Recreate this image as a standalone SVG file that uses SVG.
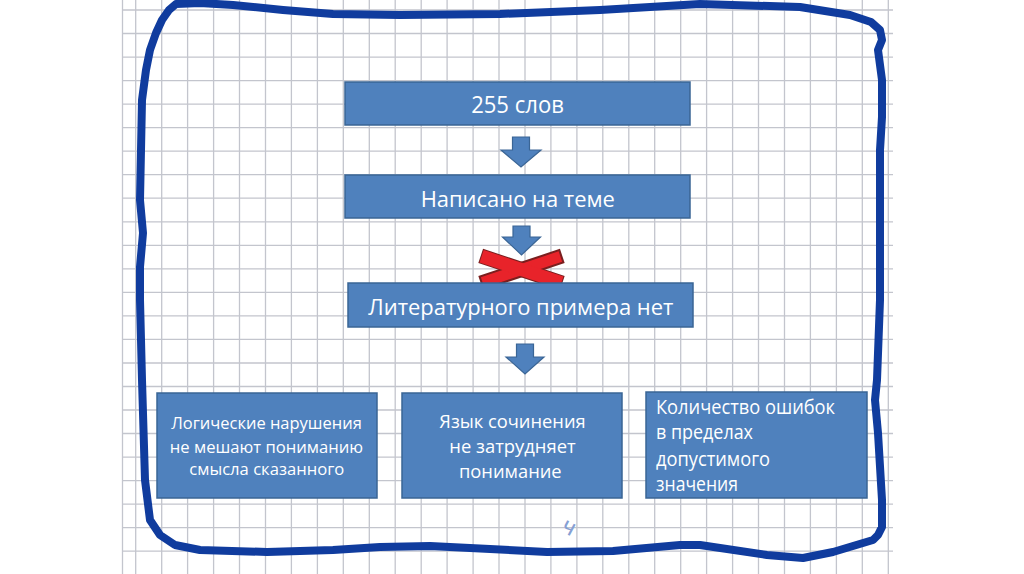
<svg xmlns="http://www.w3.org/2000/svg" width="1024" height="574" viewBox="0 0 1024 574">
<style>
.grid{stroke:#c3c5cd;stroke-width:1.3;fill:none}
.box{fill:#4f81bd;stroke:#3a6595;stroke-width:1.5}
.arrow{fill:#4f81bd;stroke:#3a6595;stroke-width:1.2;stroke-linejoin:miter}
.t{fill:#ffffff;font-family:"Open Sans","Noto Sans","DejaVu Sans",sans-serif}
.border{fill:none;stroke:#103c9e;stroke-width:8;stroke-linejoin:round;stroke-linecap:round}
</style>
<rect width="1024" height="574" fill="#ffffff"/>
<g id="grid">
<path class="grid" d="M122.5 0V574M135.7 0V574M161.7 0V574M187.6 0V574M213.6 0V574M239.5 0V574M265.5 0V574M291.4 0V574M317.4 0V574M343.3 0V574M369.3 0V574M395.2 0V574M421.2 0V574M447.1 0V574M473.1 0V574M499 0V574M525 0V574M550.9 0V574M576.9 0V574M602.8 0V574M628.8 0V574M654.7 0V574M680.7 0V574M706.6 0V574M732.6 0V574M758.5 0V574M784.5 0V574M810.4 0V574M836.4 0V574M862.3 0V574M888.3 0V574"/>
<path class="grid" d="M122 10H893M122 33.5H893M122 57.1H893M122 80.6H893M122 104.1H893M122 127.7H893M122 151.2H893M122 174.7H893M122 198.2H893M122 221.8H893M122 245.3H893M122 268.8H893M122 292.4H893M122 315.9H893M122 339.4H893M122 363H893M122 386.5H893M122 410H893M122 433.5H893M122 457.1H893M122 480.6H893M122 504.1H893M122 527.7H893M122 551.2H893"/>
</g>
<g id="frame">
<path class="border" d="M176 4L200 3L233 5L283 10L333 14L400 15L500 14L600 10L700 4L800 7L850 15L871 22L880 30L882 40L878 50L880 65L882 80L882 117L880 150L880 200L880 300L877 380L875 400L878 433L882 500L882 527L878 535L873 540L833 552L803 558L767 555L700 545L680 545L613 551L547 552L430 546L380 547L333 550L267 552L200 550L175 545L160 535L150 520L145 480L142 380L140 300L140 267L143 233L140 200L141 150L142 100L146 70L150 50L156 33L162 20L169 10Z"/>
</g>
<g id="connectors">
<path class="arrow" d="M512.5 137H529.5V150H541L521 167L501 150H512.5Z"/>
<path class="arrow" d="M513 226H530V237H540.5L521.5 255L502.5 237H513Z"/>
<path class="arrow" d="M516.5 344H533.5V357H544L525 374L506 357H516.5Z"/>
</g>
<g id="cross">
<rect x="-42" y="-6.5" width="84" height="13" transform="translate(521.5 269.5) rotate(18.4)" fill="#e8232a" stroke="#7a1f1f" stroke-width="2"/>
<rect x="-42" y="-6.5" width="84" height="13" transform="translate(521.5 269.5) rotate(-18.4)" fill="#e8232a" stroke="#7a1f1f" stroke-width="2"/>
<rect x="-42" y="-6.5" width="84" height="13" transform="translate(521.5 269.5) rotate(18.4)" fill="#e8232a"/>
</g>
<g id="node-words">
<rect class="box" x="345" y="82" width="345" height="43"/>
<text class="t" x="517.5" y="113.3" font-size="23" text-anchor="middle" textLength="92.7" lengthAdjust="spacingAndGlyphs">255 слов</text>
</g>
<g id="node-topic">
<rect class="box" x="345" y="175" width="345" height="43"/>
<text class="t" x="517.8" y="207.3" font-size="22" text-anchor="middle" textLength="194.3" lengthAdjust="spacingAndGlyphs">Написано на теме</text>
</g>
<g id="node-example">
<rect class="box" x="348" y="283" width="345" height="44"/>
<text class="t" x="520.8" y="315" font-size="22" text-anchor="middle" textLength="305" lengthAdjust="spacingAndGlyphs">Литературного примера нет</text>
</g>
<g id="node-logic">
<rect class="box" x="157" y="393" width="220" height="105"/>
<text class="t" x="266.5" y="428.7" font-size="16.5" text-anchor="middle" textLength="190.7" lengthAdjust="spacingAndGlyphs">Логические нарушения</text>
<text class="t" x="266.5" y="452.7" font-size="16.5" text-anchor="middle" textLength="193.3" lengthAdjust="spacingAndGlyphs">не мешают пониманию</text>
<text class="t" x="266.8" y="474.8" font-size="16.5" text-anchor="middle" textLength="155" lengthAdjust="spacingAndGlyphs">смысла сказанного</text>
</g>
<g id="node-language">
<rect class="box" x="402" y="393" width="220" height="105"/>
<text class="t" x="512.5" y="427.7" font-size="17.5" text-anchor="middle" textLength="146.3" lengthAdjust="spacingAndGlyphs">Язык сочинения</text>
<text class="t" x="512.5" y="453.3" font-size="17.5" text-anchor="middle" textLength="126.3" lengthAdjust="spacingAndGlyphs">не затрудняет</text>
<text class="t" x="510.3" y="478.3" font-size="17.5" text-anchor="middle" textLength="102.7" lengthAdjust="spacingAndGlyphs">понимание</text>
</g>
<g id="node-errors">
<rect class="box" x="646" y="392" width="221" height="106"/>
<text class="t" x="656" y="414.3" font-size="20" textLength="179" lengthAdjust="spacingAndGlyphs">Количество ошибок</text>
<text class="t" x="656" y="439.3" font-size="20" textLength="97" lengthAdjust="spacingAndGlyphs">в пределах</text>
<text class="t" x="656" y="465.5" font-size="20" textLength="114" lengthAdjust="spacingAndGlyphs">допустимого</text>
<text class="t" x="656" y="491" font-size="20" textLength="82" lengthAdjust="spacingAndGlyphs">значения</text>
</g>
<text x="563" y="537" font-size="24" fill="#86a0d4" font-family="'Liberation Sans',sans-serif" transform="rotate(28 574 528)">ч</text>
</svg>
